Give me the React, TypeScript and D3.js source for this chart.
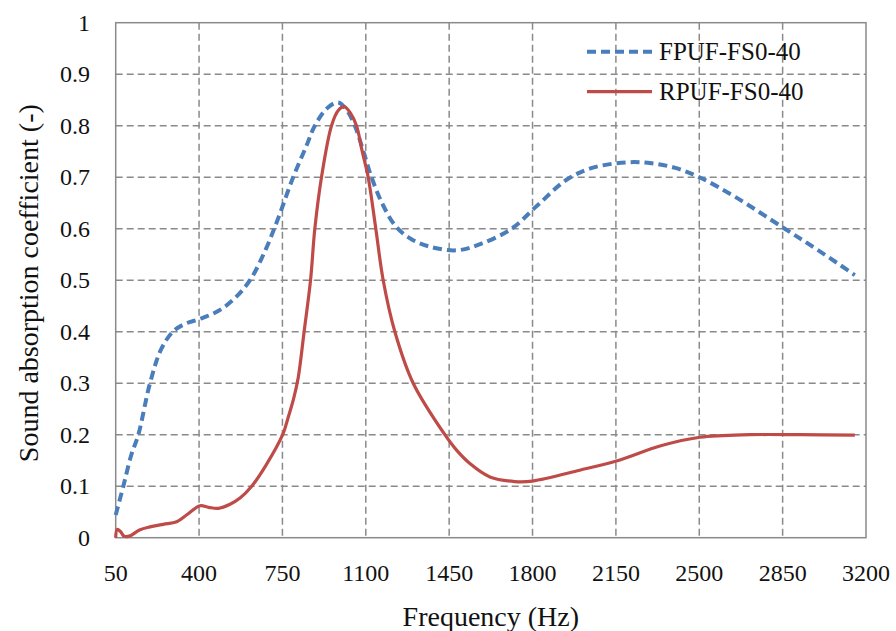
import React from "react";
import * as d3 from "d3";

const xTicks = [50, 400, 750, 1100, 1450, 1800, 2150, 2500, 2850, 3200];
const yTicks = [0, 0.1, 0.2, 0.3, 0.4, 0.5, 0.6, 0.7, 0.8, 0.9, 1];
const yTickLabels = ["0", "0.1", "0.2", "0.3", "0.4", "0.5", "0.6", "0.7", "0.8", "0.9", "1"];
const seriesNames = ["FPUF-FS0-40", "RPUF-FS0-40"];

const fpufFreq = [50, 82, 115, 145, 194, 240, 290, 340, 404, 480, 550, 614, 680, 732, 795, 850, 886, 940, 984, 1020, 1054, 1090, 1124, 1170, 1225, 1290, 1370, 1481, 1580, 1712, 1820, 1943, 2050, 2200, 2300, 2400, 2500, 2650, 2859, 3000, 3153];
const fpufVal = [0.044, 0.1, 0.16, 0.2, 0.3, 0.365, 0.4, 0.415, 0.425, 0.44, 0.465, 0.5, 0.56, 0.62, 0.7, 0.76, 0.8, 0.835, 0.845, 0.83, 0.8, 0.75, 0.7, 0.648, 0.605, 0.58, 0.565, 0.558, 0.57, 0.6, 0.645, 0.695, 0.718, 0.729, 0.727, 0.718, 0.7, 0.662, 0.6, 0.558, 0.51];

const rpufFreq = [50, 56, 70, 85, 107, 150, 194, 250, 306, 350, 404, 440, 481, 530, 572, 621, 680, 751, 775, 797, 816, 841, 868, 886, 914, 956, 985, 1009, 1035, 1061, 1085, 1110, 1142, 1173, 1222, 1299, 1432, 1481, 1537, 1621, 1726, 1800, 1998, 2167, 2335, 2503, 2713, 2923, 3153];
const rpufVal = [0.0, 0.016, 0.012, 0.003, 0.003, 0.015, 0.021, 0.026, 0.031, 0.045, 0.062, 0.059, 0.057, 0.065, 0.077, 0.1, 0.14, 0.2, 0.235, 0.27, 0.31, 0.4, 0.5, 0.6, 0.7, 0.8, 0.83, 0.837, 0.825, 0.8, 0.75, 0.7, 0.6, 0.5, 0.4, 0.3, 0.2, 0.17, 0.144, 0.118, 0.109, 0.11, 0.131, 0.151, 0.178, 0.195, 0.2, 0.2, 0.199];

const W = 896;
const H = 631;
const L = 115.7, R = 866, T = 22.7, B = 537.7;
const FONT = "'Liberation Serif', 'Times New Roman', serif";
const GRID = "#8a8a8a";

export default function App() {
  const x = d3.scaleLinear().domain([50, 3200]).range([L, R]);
  const y = d3.scaleLinear().domain([0, 1]).range([B, T]);
  const line = d3
    .line<[number, number]>()
    .x((d) => x(d[0]))
    .y((d) => y(d[1]))
    .curve(d3.curveCatmullRom.alpha(0.5));
  const fpuf: [number, number][] = fpufFreq.map((f, i) => [f, fpufVal[i]]);
  const rpuf: [number, number][] = rpufFreq.map((f, i) => [f, rpufVal[i]]);

  return (
    <svg width={W} height={H} style={{ position: "absolute", left: 0, top: 0, background: "#fff" }}>
      <rect x={0} y={0} width={W} height={H} fill="#fff" />
      {yTicks.slice(1, -1).map((t) => (
        <line key={"h" + t} x1={L} x2={R} y1={y(t)} y2={y(t)} stroke={GRID} strokeWidth={1.5} strokeDasharray="7,4" />
      ))}
      {xTicks.slice(1, -1).map((t) => (
        <line key={"v" + t} x1={x(t)} x2={x(t)} y1={T} y2={B} stroke={GRID} strokeWidth={1.5} strokeDasharray="7,4" />
      ))}
      <rect x={L} y={T} width={R - L} height={B - T} fill="none" stroke={GRID} strokeWidth={1.5} />
      <path d={line(fpuf) || ""} fill="none" stroke="#4a7ebb" strokeWidth={4} strokeDasharray="9,5" />
      <path d={line(rpuf) || ""} fill="none" stroke="#be4b48" strokeWidth={3.2} />
      {yTicks.map((t, i) => (
        <text key={"yl" + t} x={90} y={y(t) + 8} textAnchor="end" fontFamily={FONT} fontSize={24} fill="#111">
          {yTickLabels[i]}
        </text>
      ))}
      {xTicks.map((t) => (
        <text key={"xl" + t} x={x(t)} y={581} textAnchor="middle" fontFamily={FONT} fontSize={24} fill="#111">
          {t}
        </text>
      ))}
      <text x={(L + R) / 2} y={626} textAnchor="middle" fontFamily={FONT} fontSize={28} fill="#111">
        Frequency (Hz)
      </text>
      <text transform={`translate(38,${(T + B) / 2 + 3}) rotate(-90)`} textAnchor="middle" fontFamily={FONT} fontSize={28} fill="#111">
        Sound absorption coefficient (-)
      </text>
      <line x1={587} x2={652} y1={51.7} y2={51.7} stroke="#4a7ebb" strokeWidth={4} strokeDasharray="9,5" />
      <text x={659} y={60} fontFamily={FONT} fontSize={25} fill="#111">{seriesNames[0]}</text>
      <line x1={587} x2={652} y1={91.7} y2={91.7} stroke="#be4b48" strokeWidth={3.2} />
      <text x={659} y={100} fontFamily={FONT} fontSize={25} fill="#111">{seriesNames[1]}</text>
    </svg>
  );
}
